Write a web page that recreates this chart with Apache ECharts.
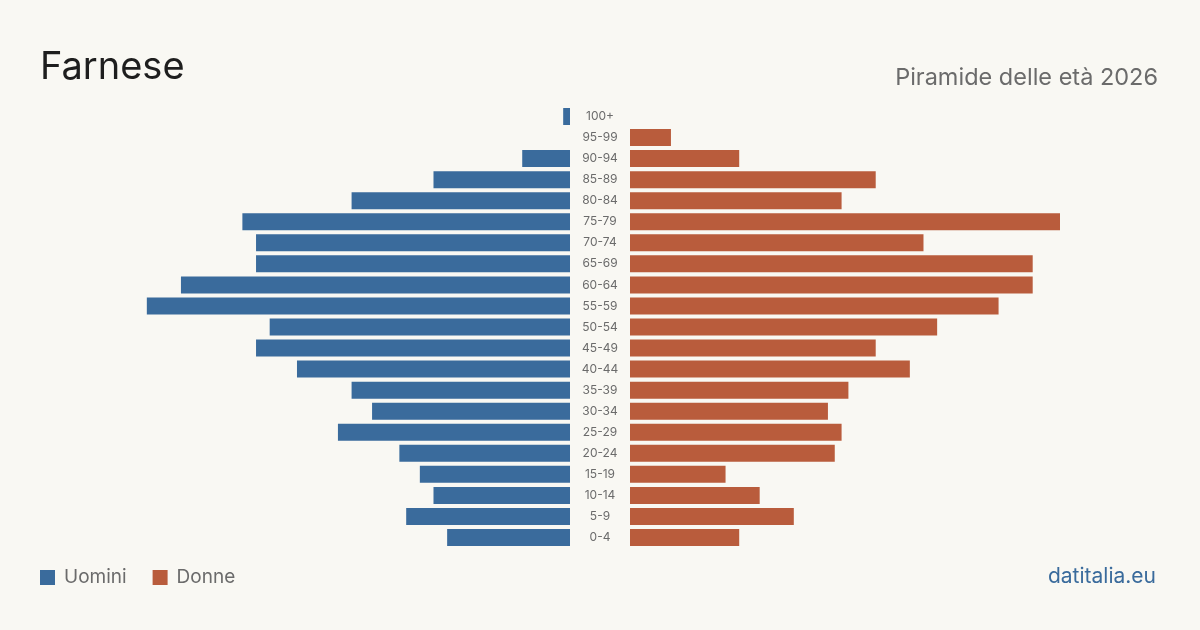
<!DOCTYPE html>
<html>
<head>
<meta charset="utf-8">
<script src="https://cdn.jsdelivr.net/npm/echarts@6/dist/echarts.min.js"></script>
<style>
  html, body { margin: 0; padding: 0; background: #f9f8f3; }
  #chart { width: 1200px; height: 630px; }
</style>
</head>
<body>
<div id="chart"></div>
<script>
// age groups, bottom to top
var ageGroups = ['0-4', '5-9', '10-14', '15-19', '20-24', '25-29', '30-34', '35-39', '40-44', '45-49',
    '50-54', '55-59', '60-64', '65-69', '70-74', '75-79', '80-84', '85-89', '90-94', '95-99', '100+'];
var uomini = [18, 24, 20, 22, 25, 34, 29, 32, 40, 46, 44, 62, 57, 46, 46, 48, 32, 20, 7, 0, 1];
var donne  = [16, 24, 19, 14, 30, 31, 29, 32, 41, 36, 45, 54, 59, 59, 43, 63, 31, 36, 16, 6, 0];

var blue = '#3a6b9c';
var red = '#b95c3c';
var maxVal = Math.max(Math.max.apply(null, uomini), Math.max.apply(null, donne));

var chart = echarts.init(document.getElementById('chart'));

var option = {
    backgroundColor: '#f9f8f3',
    animation: false,
    textStyle: { fontFamily: 'Inter' },
    title: [
        {
            text: 'Farnese',
            left: 35, top: 44,
            textStyle: { fontFamily: 'Inter', fontSize: 38, fontWeight: 'normal', color: '#1e1e1e' }
        },
        {
            text: 'Piramide delle età 2026',
            right: 37, top: 61,
            textStyle: { fontFamily: 'Inter', fontSize: 23.5, fontWeight: 'normal', color: '#6b6b6b' }
        },
        {
            text: 'datitalia.eu',
            right: 39, top: 561,
            textStyle: { fontFamily: 'Inter', fontSize: 21, fontWeight: 'normal', color: '#3a6b9c' }
        }
    ],
    legend: {
        left: 35, top: 563,
        itemWidth: 15, itemHeight: 15, itemGap: 26,
        icon: 'rect',
        textStyle: { fontFamily: 'Inter', fontSize: 19, color: '#6b6b6b', padding: [0, 0, 0, 4] },
        data: ['Uomini', 'Donne']
    },
    grid: [
        { left: 140, width: 430, top: 106, height: 442 },
        { left: 630, width: 430, top: 106, height: 442 }
    ],
    xAxis: [
        { gridIndex: 0, type: 'value', min: 0, max: maxVal, inverse: true, show: false },
        { gridIndex: 1, type: 'value', min: 0, max: maxVal, show: false }
    ],
    yAxis: [
        {
            gridIndex: 0, type: 'category', data: ageGroups, position: 'right',
            axisLine: { show: false }, axisTick: { show: false },
            axisLabel: { margin: 30, align: 'center', fontSize: 12, color: '#6b6b6b', fontFamily: 'Inter' }
        },
        {
            gridIndex: 1, type: 'category', data: ageGroups,
            axisLine: { show: false }, axisTick: { show: false }, axisLabel: { show: false }
        }
    ],
    series: [
        {
            name: 'Uomini', type: 'bar', xAxisIndex: 0, yAxisIndex: 0,
            data: uomini, barWidth: 17, itemStyle: { color: blue }
        },
        {
            name: 'Donne', type: 'bar', xAxisIndex: 1, yAxisIndex: 1,
            data: donne, barWidth: 17, itemStyle: { color: red }
        }
    ]
};

chart.setOption(option);
</script>
</body>
</html>
